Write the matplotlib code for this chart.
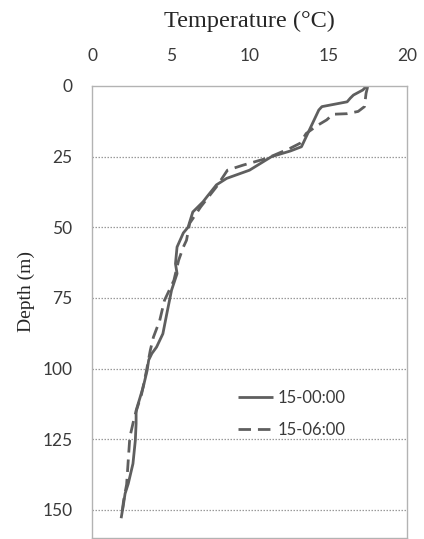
import matplotlib
matplotlib.use("Agg")
import matplotlib.pyplot as plt

# ---- data ----
depth_00 = [0.2, 1.4, 3.2, 4.3, 5.6, 7.3, 8.5, 15.6, 21.5, 23.0, 25.0, 29.8, 32.7, 35.0,
            39.2, 41.0, 44.6, 50.0, 52.0, 57.0, 62.9, 66.4, 72.3, 80.6, 87.7, 92.4, 94.7,
            97.0, 100.7, 106.6, 114.9, 119.5, 125.5, 133.7, 140.8, 144.3, 148.0, 153.0]
temp_00 = [17.4, 17.2, 16.6, 16.4, 16.2, 14.6, 14.4, 13.8, 13.3, 12.6, 11.4, 10.0, 8.55, 7.9,
           7.3, 7.05, 6.4, 6.1, 5.8, 5.4, 5.3, 5.4, 5.05, 4.75, 4.5, 4.1, 3.8,
           3.6, 3.5, 3.25, 2.8, 2.8, 2.75, 2.6, 2.3, 2.1, 2.0, 1.85]

depth_06 = [0.3, 2.6, 7.3, 9.0, 9.8, 10.0, 12.0, 14.0, 16.8, 20.3, 22.0, 25.6, 28.0, 29.8,
            35.7, 42.8, 48.6, 54.6, 57.0, 61.7, 68.8, 75.9, 83.0, 88.9, 93.6, 101.0,
            109.0, 117.0, 124.4, 132.6, 141.0, 147.0, 151.5]
temp_06 = [17.5, 17.4, 17.3, 16.9, 16.2, 15.3, 14.9, 14.3, 13.6, 13.2, 12.6, 11.1, 9.6, 8.6,
           7.9, 6.9, 6.2, 6.0, 5.8, 5.5, 5.2, 4.6, 4.3, 3.9, 3.7, 3.45,
           3.15, 2.7, 2.4, 2.3, 2.2, 2.0, 1.9]

series_labels = ["15-00:00", "15-06:00"]
x_ticks = [0, 5, 10, 15, 20]
y_ticks = [0, 25, 50, 75, 100, 125, 150]

W, H = 424, 539
fig = plt.figure(figsize=(W / 100, H / 100), dpi=100)
ax = fig.add_axes([92 / W, 1 - 538 / H, (407 - 92) / W, (538 - 86) / H])

line_col = "#5f5f5f"
ax.plot(temp_00, depth_00, color=line_col, lw=2.0, solid_capstyle="butt",
        label=series_labels[0])
ax.plot(temp_06, depth_06, color=line_col, lw=2.0, ls=(0, (4.5, 2.5)),
        label=series_labels[1])

ax.set_xlim(0, 20)
ax.set_ylim(160, 0)
ax.set_xticks(x_ticks)
ax.set_yticks(y_ticks)
ax.xaxis.tick_top()

tick_font = dict(family="Lato", size=12.5)
ax.set_xticklabels([str(t) for t in x_ticks], fontdict=tick_font, color="#3a3a3a")
ax.set_yticklabels([str(t) for t in y_ticks], fontdict=tick_font, color="#3a3a3a")
ax.tick_params(axis="x", length=0, pad=16)
ax.tick_params(axis="y", length=0, pad=14)

for sp in ax.spines.values():
    sp.set_color("#b3b3b3")
    sp.set_linewidth(1.0)

for yv in y_ticks[1:]:
    ax.axhline(yv, color="#9a9a9a", lw=0.9, ls=(0, (1.2, 1.2)), zorder=0)

fig.text(249 / W, 1 - 26.5 / H, "Temperature (°C)", family="Liberation Serif",
         size=17.5, color="#262626", ha="center", va="baseline")
fig.text(26 / W, 1 - 292 / H, "Depth (m)", family="Liberation Serif",
         size=14, color="#262626", ha="center", va="center", rotation=90)

leg = ax.legend(loc="upper left", bbox_to_anchor=(0.462, 0.328), frameon=False,
                prop=dict(family="Lato", size=12), handlelength=2.1,
                handletextpad=0.3, labelspacing=0.95, borderpad=0, borderaxespad=0)
for t in leg.get_texts():
    t.set_color("#3a3a3a")

fig.savefig("out.png", dpi=100, facecolor="white")
